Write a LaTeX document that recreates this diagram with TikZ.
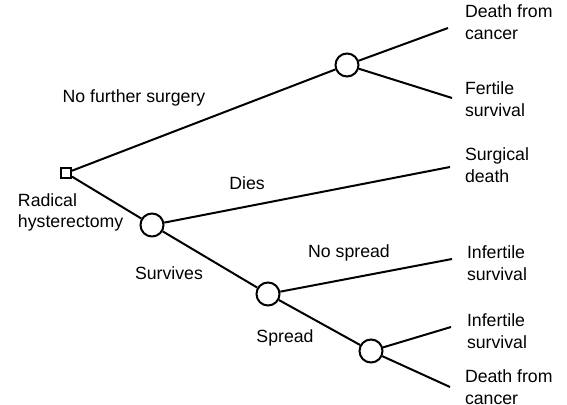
\documentclass[tikz,border=0pt]{standalone}
\usepackage{fontspec}
\setmainfont{Liberation Sans}
\usetikzlibrary{positioning}

\begin{document}
\begin{tikzpicture}[x=0.5pt, y=-0.5pt, line width=1pt,
  every node/.style={font=\fontsize{8.85}{10.75}\selectfont},
  chance/.style={draw, circle, fill=white, inner sep=0pt, minimum size=11.5pt},
  decision/.style={draw, rectangle, fill=white, inner sep=0pt, minimum size=5pt},
  outcome/.style={anchor=base west, align=left, inner sep=0pt},
  branch/.style={anchor=base, inner sep=0pt}]
  \useasboundingbox (0,0) rectangle (567,405);

  % Nodes
  \node [decision] (root) at (66,173) {};
  \node [chance] (chance1) at (347,65) {};
  \node [chance] (chance2) at (152,225) {};
  \node [chance] (chance3) at (268,294) {};
  \node [chance] (chance4) at (371,351) {};

  % End points
  \coordinate (end1) at (448,28);
  \coordinate (end2) at (452,98);
  \coordinate (end3) at (450,167);
  \coordinate (end4) at (452,259);
  \coordinate (end5) at (451,327);
  \coordinate (end6) at (450,387);

  % Outcomes (base = last line)
  \node [outcome] (out1) at (464,39.5) {Death from\\cancer};
  \node [outcome] (out2) at (464,116.5) {Fertile\\survival};
  \node [outcome] (out3) at (464,182.5) {Surgical\\death};
  \node [outcome] (out4) at (466,280.5) {Infertile\\survival};
  \node [outcome] (out5) at (466,348.5) {Infertile\\survival};
  \node [outcome] (out6) at (464,404) {Death from\\cancer};
  \node [outcome] (start) at (17,228) {Radical\\hysterectomy};

  % Branch labels
  \node [branch] (lab1) at (134,103) {No further surgery};
  \node [branch] (lab2) at (247,190) {Dies};
  \node [branch] (lab3) at (169,280) {Survives};
  \node [branch] (lab4) at (349,258) {No spread};
  \node [branch] (lab5) at (285,343) {Spread};

  % Lines
  \draw (root) -- (chance1);
  \draw (root) -- (chance2);
  \draw (chance1) -- (end1);
  \draw (chance1) -- (end2);
  \draw (chance2) -- (end3);
  \draw (chance2) -- (chance3);
  \draw (chance3) -- (end4);
  \draw (chance3) -- (chance4);
  \draw (chance4) -- (end5);
  \draw (chance4) -- (end6);
\end{tikzpicture}
\end{document}
